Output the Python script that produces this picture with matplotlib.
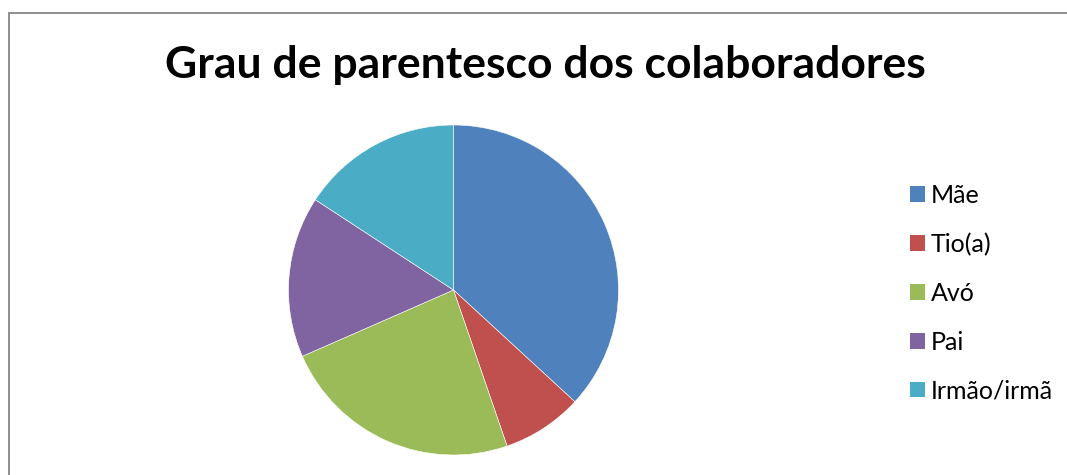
import matplotlib.pyplot as plt
from matplotlib.patches import Rectangle

# Grau de parentesco (contagem por categoria)
labels = ['Mãe', 'Tio(a)', 'Avó', 'Pai', 'Irmão/irmã']
counts = [14, 3, 9, 6, 6]
colors = ['#4F81BD', '#C0504D', '#9BBB59', '#8064A2', '#4BACC6']

W, H = 1067, 475
fig = plt.figure(figsize=(W / 100, H / 100), dpi=100)
fig.patch.set_facecolor('white')

# chart frame (cut off on the right and bottom)
fig.patches.append(Rectangle((9 / W, -0.1), 1.2, (H - 13.5) / H + 0.1,
                             transform=fig.transFigure, fill=False,
                             edgecolor='#868686', linewidth=1.3))

fig.text(545.5 / W, (H - 78) / H, 'Grau de parentesco dos colaboradores',
         ha='center', va='baseline', fontsize=32, fontweight='bold',
         family='Lato', color='black')

# pie centred at (453.5, 290) px, radius 165 px
cx, cy, r = 453.5, 290, 165
ax = fig.add_axes([(cx - r) / W, (H - cy - r) / H, 2 * r / W, 2 * r / H])
wedges, _ = ax.pie(counts, colors=colors, startangle=90, counterclock=False,
                   radius=1, wedgeprops=dict(edgecolor='white', linewidth=0.4))
ax.set_xlim(-1, 1)
ax.set_ylim(-1, 1)
ax.set_aspect('equal')
ax.axis('off')

leg = fig.legend(wedges, labels, loc='upper left',
                 bbox_to_anchor=(910 / W, (H - 184) / H),
                 frameon=False, prop={'family': 'Lato', 'size': 18},
                 handlelength=0.6, handleheight=0.6, handletextpad=0.24,
                 labelspacing=1.03, borderaxespad=0, borderpad=0)
for h in leg.legend_handles:
    h.set_edgecolor('none')

fig.savefig('out.png', dpi=100, facecolor='white')
